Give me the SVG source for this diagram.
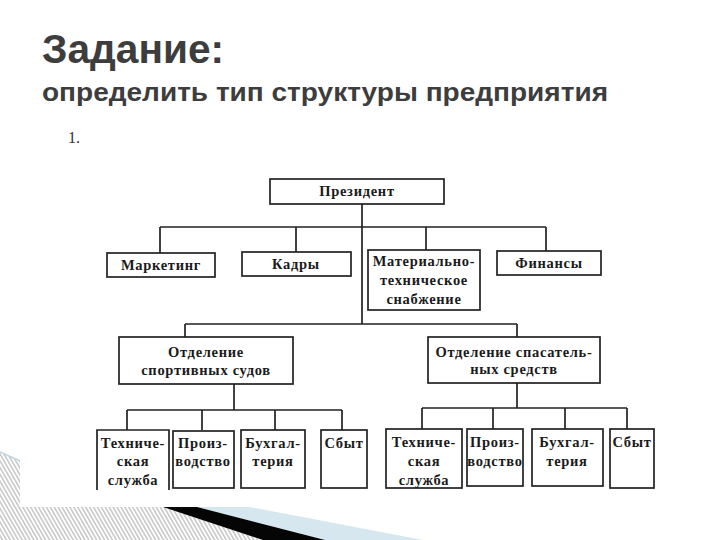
<svg xmlns="http://www.w3.org/2000/svg" width="720" height="540" viewBox="0 0 720 540">
<defs>
<pattern id="hatch" patternUnits="userSpaceOnUse" width="3.4" height="6" patternTransform="rotate(-30)">
<rect width="3.4" height="6" fill="#ffffff"/>
<line x1="0.8" y1="0" x2="0.8" y2="6" stroke="#a8a8a8" stroke-width="1"/>
</pattern>
<style>
.t{font-family:"Liberation Sans",Arial,sans-serif;font-weight:bold;fill:#3d3d3d}
.n{font-family:"Liberation Serif","Times New Roman",serif;font-weight:bold;font-size:14.5px;letter-spacing:0.7px;fill:#1a1a1a;text-anchor:middle}
.box{fill:#ffffff;stroke:#222222;stroke-width:1.7}
.c{fill:none;stroke:#222222;stroke-width:1.7}
</style>
</defs>
<rect width="720" height="540" fill="#ffffff"/>
<g id="decor">
<polygon points="0,452 20,461 20,507 163,507 263,540 0,540" fill="url(#hatch)"/>
<line x1="0" y1="452" x2="20" y2="461" stroke="#bcd6e3" stroke-width="1.5"/>
<polygon points="197,507 250,507 423,540 325,540" fill="#d6e7ef"/>
<polygon points="163,507 197,507 325,540 263,540" fill="#050505"/>
</g>
<text class="t" x="42" y="63" font-size="40" textLength="182" lengthAdjust="spacingAndGlyphs">Задание:</text>
<text class="t" x="42" y="101" font-size="25" textLength="566" lengthAdjust="spacingAndGlyphs">определить тип структуры предприятия</text>
<text x="68" y="143" font-family="'Liberation Serif','Times New Roman',serif" font-size="16" fill="#333333">1.</text>
<g id="connectors">
<path class="c" d="M362,204 V324"/>
<path class="c" d="M160,227 H546 M160,227 V253 M296,227 V252 M426,227 V250 M546,227 V251"/>
<path class="c" d="M185,324 H517 M185,324 V337 M517,324 V337"/>
<path class="c" d="M234,384 V410 M127,410 H342 M127,410 V430 M202,410 V430 M275,410 V430 M342,410 V430"/>
<path class="c" d="M517,383 V408 M422,408 H627 M422,408 V429 M493,408 V429 M565,408 V429 M627,408 V429"/>
</g>
<g id="president"><rect class="box" x="270" y="179" width="174" height="25"/><text class="n" x="357" y="196">Президент</text></g>
<g id="marketing"><rect class="box" x="107" y="253" width="108" height="24"/><text class="n" x="161" y="270">Маркетинг</text></g>
<g id="kadry"><rect class="box" x="242" y="252" width="109" height="24"/><text class="n" x="296" y="269">Кадры</text></g>
<g id="mts"><rect class="box" x="368" y="250" width="112" height="60"/><text class="n" x="424" y="266">Материально-</text><text class="n" x="424" y="285">техническое</text><text class="n" x="424" y="304">снабжение</text></g>
<g id="finansy"><rect class="box" x="497" y="251" width="104" height="24"/><text class="n" x="549" y="268">Финансы</text></g>
<g id="otd-sport"><rect class="box" x="119" y="337" width="174" height="47"/><text class="n" x="206" y="357">Отделение</text><text class="n" x="206" y="375">спортивных судов</text></g>
<g id="otd-spas"><rect class="box" x="428" y="337" width="172" height="46"/><text class="n" x="514" y="357">Отделение спасатель-</text><text class="n" x="514" y="374">ных средств</text></g>
<g id="l-tech"><path class="c" d="M97,490 V430 H169 V490"/><text class="n" x="133" y="448">Техниче-</text><text class="n" x="133" y="466">ская</text><text class="n" x="133" y="485">служба</text></g>
<g id="l-proizv"><rect class="box" x="173" y="431" width="61" height="57"/><text class="n" x="203" y="448">Произ-</text><text class="n" x="203" y="466">водство</text></g>
<g id="l-buh"><rect class="box" x="241" y="430" width="64" height="58"/><text class="n" x="273" y="448">Бухгал-</text><text class="n" x="273" y="466">терия</text></g>
<g id="l-sbyt"><rect class="box" x="321" y="430" width="46" height="58"/><text class="n" x="344" y="448">Сбыт</text></g>
<g id="r-tech"><rect class="box" x="386" y="429" width="76" height="59"/><text class="n" x="424" y="447">Техниче-</text><text class="n" x="424" y="466">ская</text><text class="n" x="424" y="485">служба</text></g>
<g id="r-proizv"><rect class="box" x="467" y="429" width="56" height="57"/><text class="n" x="495" y="447">Произ-</text><text class="n" x="495" y="466">водство</text></g>
<g id="r-buh"><rect class="box" x="532" y="429" width="71" height="57"/><text class="n" x="567" y="447">Бухгал-</text><text class="n" x="567" y="466">терия</text></g>
<g id="r-sbyt"><rect class="box" x="610" y="429" width="44" height="59"/><text class="n" x="632" y="447">Сбыт</text></g>
</svg>
